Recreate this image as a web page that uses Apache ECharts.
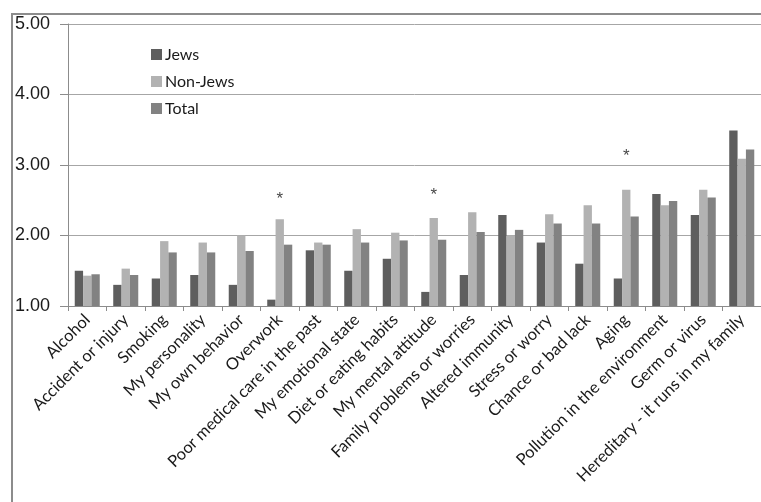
<!DOCTYPE html>
<html>
<head>
<meta charset="utf-8">
<script src="https://cdn.jsdelivr.net/npm/echarts@6/dist/echarts.min.js"></script>
<style>
html,body{margin:0;padding:0;background:#fff;}
#chart{width:761px;height:502px;}
</style>
</head>
<body>
<div id="chart"></div>
<script>
var categories = ["Alcohol","Accident or injury","Smoking","My personality","My own behavior","Overwork","Poor medical care in the past","My emotional state","Diet or eating habits","My mental attitude","Family problems or worries","Altered immunity","Stress or worry","Chance or bad lack","Aging","Pollution in the environment","Germ or virus","Hereditary - it runs in my family"];
var jews    = [1.50,1.30,1.39,1.44,1.30,1.09,1.79,1.50,1.67,1.20,1.44,2.29,1.90,1.60,1.39,2.59,2.29,3.49];
var nonJews = [1.43,1.53,1.92,1.90,2.00,2.23,1.90,2.09,2.04,2.25,2.33,2.00,2.30,2.43,2.65,2.43,2.65,3.09];
var total   = [1.45,1.44,1.76,1.76,1.78,1.87,1.87,1.90,1.93,1.94,2.05,2.08,2.17,2.17,2.27,2.49,2.54,3.22];
var asterisks = [null,null,null,null,null,2.52,null,null,null,2.57,null,null,null,null,3.12,null,null,null];
var yTicks = [1,2,3,4,5];

var chart = echarts.init(document.getElementById('chart'), null, {renderer:'canvas'});
var catFont = 'Lato, "Open Sans", sans-serif';
chart.setOption({
  animation:false,
  backgroundColor:'#ffffff',
  graphic:[{type:'polyline',shape:{points:[[12,510],[12,14],[770,14]]},style:{stroke:'#8c8c8c',lineWidth:2,fill:null},silent:true}],
  legend:{
    orient:'vertical',left:146,top:41,itemWidth:11,itemHeight:11,itemGap:10,
    data:['Jews','Non-Jews','Total'],
    textStyle:{fontFamily:catFont,fontSize:16,color:'#1a1a1a',lineHeight:17,padding:[0,0,0,-2]},
    icon:'rect'
  },
  grid:{left:68,right:-9,top:24,bottom:196,containLabel:false},
  xAxis:{
    type:'category',data:categories,
    axisLine:{lineStyle:{color:'#8c8c8c',width:1}},
    axisTick:{show:true,length:5,lineStyle:{color:'#8c8c8c'}},
    axisLabel:{rotate:45,interval:0,fontFamily:catFont,fontSize:16.5,color:'#1a1a1a',margin:11}
  },
  yAxis:{
    type:'value',min:yTicks[0],max:yTicks[yTicks.length-1],interval:1,
    axisLine:{show:true,lineStyle:{color:'#8c8c8c'}},
    axisTick:{show:true,length:8,lineStyle:{color:'#8c8c8c'}},
    axisLabel:{formatter:function(v){return v.toFixed(2);},fontFamily:'"Liberation Sans", Arial, sans-serif',fontSize:18,color:'#1a1a1a',margin:18},
    splitLine:{lineStyle:{color:'#a6a6a6',width:1}}
  },
  series:[
    {name:'Jews',type:'bar',data:jews,itemStyle:{color:'#5e5e5e'},barGap:'0%',barCategoryGap:'35%'},
    {name:'Non-Jews',type:'bar',data:nonJews,itemStyle:{color:'#b2b2b2'},barGap:'0%',barCategoryGap:'35%'},
    {name:'Total',type:'bar',data:total,itemStyle:{color:'#828282'},barGap:'0%',barCategoryGap:'35%'},
    {name:'sig',type:'scatter',data:asterisks,symbolSize:1,itemStyle:{color:'rgba(0,0,0,0)'},
     label:{show:true,position:'inside',formatter:'*',fontFamily:'"Liberation Sans", Arial, sans-serif',fontSize:17,color:'#111'},silent:true}
  ]
});
</script>
</body>
</html>
